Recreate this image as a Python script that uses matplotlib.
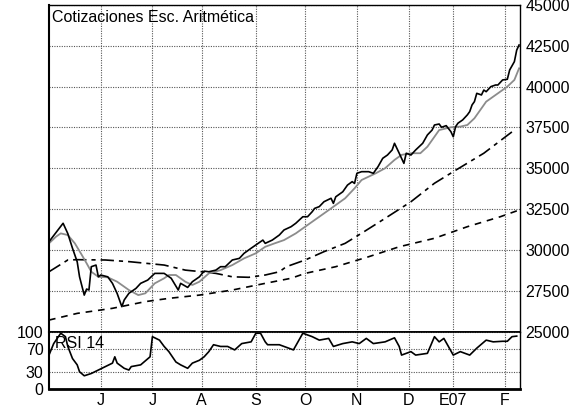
import matplotlib
matplotlib.use('Agg')
import matplotlib.pyplot as plt

plt.rcParams['font.family'] = ['Liberation Sans', 'DejaVu Sans']

# --- datos (eje x en sesiones bursatiles desde inicio de mayo 2006) ---
price_day = [0, 6, 8, 10, 12, 13, 15, 16, 17, 18, 20, 21, 22, 25, 27, 28, 29, 31, 32, 34,
             37, 39, 42, 45, 49, 52, 55, 56, 59, 61, 64, 66, 68, 71, 73, 75, 78, 81, 83, 86,
             88, 91, 92, 95, 98, 100, 103, 105, 108, 110, 112, 113, 115, 117, 120, 121, 122,
             125, 127, 129, 130, 131, 133, 136, 138, 140, 142, 144, 146, 147, 149, 151, 152,
             154, 156, 159, 161, 163, 164, 166, 167, 169, 171, 172, 173, 174, 176, 178, 179,
             180, 181, 182, 184, 185, 186, 188, 190, 191, 193, 195, 196, 198, 199, 200]
price = [30500, 31630, 31000, 30100, 29270, 28350, 27230, 27600, 27540, 28970, 29070, 28350,
         28460, 28350, 27950, 27640, 27330, 26520, 26930, 27340, 27640, 27950, 28150, 28560,
         28560, 28260, 27540, 27950, 27700, 28050, 28350, 28700, 28660, 28760, 28970, 28970,
         29380, 29480, 29790, 30100, 30300, 30600, 30400, 30600, 30910, 31220, 31420, 31630,
         32030, 32030, 32340, 32540, 32650, 32950, 33160, 32850, 33250, 33560, 33970, 34180,
         34070, 34690, 34790, 34790, 34690, 35100, 35610, 35810, 36120, 36530, 35920, 35300,
         35920, 35810, 36120, 36530, 37040, 37340, 37650, 37710, 37510, 37610, 37240, 36930,
         37550, 37760, 37960, 38270, 38470, 38880, 39080, 39590, 39490, 39790, 39690, 40000,
         40100, 40100, 40410, 40450, 41020, 41530, 42240, 42550]

ma_short_day = [0, 3, 5, 8, 11, 14, 16, 18, 21, 25, 29, 34, 38, 41, 45, 49, 51, 54, 58, 61,
                64, 68, 73, 78, 83, 88, 92, 96, 100, 105, 109, 115, 120, 126, 130, 133, 139,
                143, 147, 150, 154, 158, 161, 164, 166, 171, 175, 178, 181, 184, 186, 191,
                195, 198, 200]
ma_short = [30400, 30810, 31010, 30910, 30400, 29680, 29180, 28660, 28350, 28320, 28050,
            27540, 27230, 27340, 27950, 28260, 28460, 28460, 28050, 27850, 28050, 28560,
            28760, 29070, 29480, 29790, 30190, 30400, 30600, 31010, 31420, 32030, 32540,
            33160, 33770, 34280, 34690, 35000, 35510, 35820, 35920, 35920, 36320, 36930,
            37340, 37510, 37550, 37650, 38060, 38670, 39080, 39590, 40000, 40410, 41120]

ma_mid_day = [0, 8, 12, 24, 34, 49, 58, 65, 71, 78, 85, 92, 98, 101, 109, 117, 126, 134,
              143, 154, 164, 172, 185, 198]
ma_mid = [28660, 29380, 29400, 29380, 29280, 29070, 28760, 28660, 28560, 28350, 28320,
          28460, 28660, 28970, 29380, 29890, 30400, 31110, 31930, 32950, 34080, 34790,
          35920, 37340]

ma_long_day = [0, 12, 27, 41, 51, 64, 78, 92, 103, 109, 122, 136, 149, 164, 178, 192, 200]
ma_long = [25700, 26110, 26420, 26830, 27030, 27230, 27540, 27950, 28260, 28560, 28970,
           29580, 30190, 30710, 31420, 32030, 32440]

rsi_day = [0, 2, 4, 5, 7, 8, 10, 12, 13, 15, 18, 21, 24, 27, 28, 29, 32, 34, 35, 39, 43, 44,
           47, 49, 51, 54, 56, 59, 61, 64, 66, 68, 70, 73, 76, 79, 82, 86, 88, 90, 92, 93, 98,
           104, 108, 112, 115, 119, 121, 125, 129, 132, 135, 138, 143, 147, 149, 150, 154,
           156, 161, 164, 166, 168, 172, 175, 179, 182, 186, 189, 193, 195, 197, 199]
rsi = [59, 79, 91, 97, 91, 74, 53, 42, 30, 23, 27, 33, 39, 45, 56, 45, 36, 33, 39, 42, 56, 91,
       85, 74, 65, 47, 42, 36, 45, 50, 56, 65, 77, 74, 74, 68, 79, 82, 97, 97, 82, 77, 77, 68,
       97, 91, 85, 88, 74, 79, 82, 79, 88, 79, 82, 89, 74, 59, 65, 59, 62, 91, 82, 88, 59, 65,
       59, 71, 85, 82, 83, 83, 91, 92]

month_pos = [22, 44, 65, 88, 109, 131, 153, 172, 194]
month_lbl = ['J', 'J', 'A', 'S', 'O', 'N', 'D', 'E07', 'F']
price_ticks = list(range(25000, 45001, 2500))
rsi_ticks = [0, 30, 70, 100]

fig = plt.figure(figsize=(5.69, 4.07), dpi=100)
ax = fig.add_axes([0.0861, 0.1855, 0.8278, 0.8022])
ax2 = fig.add_axes([0.0861, 0.0442, 0.8278, 0.1413])

grid_kw = dict(color='#555555', linestyle=(0, (1, 1.2)), linewidth=0.8)

# panel de precios
ax.plot(ma_long_day, ma_long, color='black', lw=1.2, dashes=(4, 3.5))
ax.plot(ma_mid_day, ma_mid, color='black', lw=1.2, dashes=(8, 3, 2.5, 3))
ax.plot(ma_short_day, ma_short, color='#8c8c8c', lw=1.3)
ax.plot(price_day, price, color='black', lw=1.2)
ax.set_xlim(0, 200.4)
ax.set_ylim(25000, 45000)
ax.set_yticks(price_ticks)
ax.yaxis.tick_right()
ax.tick_params(axis='y', length=0, pad=4, labelsize=11.5)
ax.set_xticks(month_pos)
ax.tick_params(axis='x', length=0, labelbottom=False)
ax.grid(True, **grid_kw)
ax.text(0.006, 0.985, 'Cotizaciones Esc. Aritmética', transform=ax.transAxes,
        ha='left', va='top', fontsize=11.5)
for s in ax.spines.values():
    s.set_linewidth(1.0)
ax.spines['left'].set_linewidth(1.5)
ax.spines['bottom'].set_linewidth(1.2)

# panel RSI
ax2.plot(rsi_day, rsi, color='black', lw=1.2)
ax2.set_xlim(0, 200.4)
ax2.set_ylim(0, 100)
ax2.set_yticks(rsi_ticks)
ax2.set_xticks(month_pos)
ax2.set_xticklabels(month_lbl)
ax2.tick_params(length=0, labelsize=11.5)
ax2.tick_params(axis='y', pad=4)
ax2.tick_params(axis='x', pad=3)
ax2.grid(True, **grid_kw)
ax2.text(0.012, 0.92, 'RSI 14', transform=ax2.transAxes, ha='left', va='top', fontsize=11.5)
for s in ax2.spines.values():
    s.set_linewidth(1.0)
ax2.spines['top'].set_linewidth(1.2)
ax2.spines['left'].set_linewidth(1.5)
ax2.spines['bottom'].set_linewidth(2.0)

fig.savefig('out.png', dpi=100)
